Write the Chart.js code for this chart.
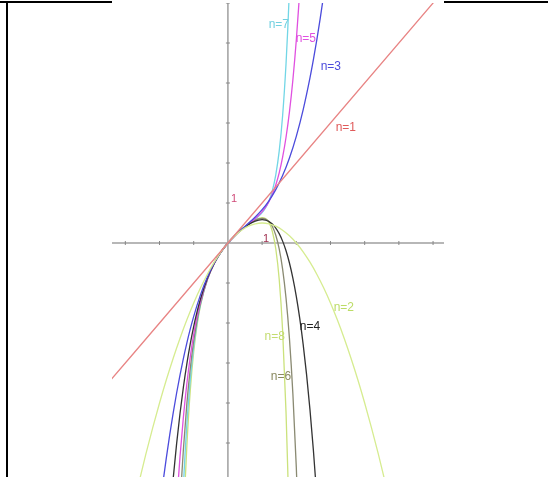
<!DOCTYPE html>
<html>
<head>
<meta charset="utf-8">
<script src="https://cdn.jsdelivr.net/npm/chart.js@4.4.1/dist/chart.umd.min.js"></script>
<style>
  body { margin: 0; background: #fff; width: 548px; height: 477px; position: relative; overflow: hidden; }
  .rule { position: absolute; background: #000; }
  #wrap { position: absolute; left: 112px; top: 3px; width: 332px; height: 474px; }
</style>
</head>
<body>
<div class="rule" style="left:0;top:1px;width:112px;height:2px"></div>
<div class="rule" style="left:444px;top:1px;width:104px;height:2px"></div>
<div class="rule" style="left:6px;top:1px;width:2px;height:476px"></div>
<div id="wrap"><canvas id="taylorChart" width="332" height="474"></canvas></div>
<script>
// Taylor polynomials, values
const n1X = [-3.6, 0, 6.4];
const n1Y = [-3.6, 0, 6.4];

const n2X = [-2.8,-2.6,-2.4,-2.2,-2.0,-1.8,-1.6,-1.4,-1.2,-1.0,-0.8,-0.6,-0.4,-0.2,0,0.2,0.4,0.6,0.8,1.0,1.2,1.4,1.6,1.8,2.0,2.2,2.4,2.6,2.8,3.0,3.2,3.4,3.6,3.8,4.0,4.2,4.4,4.6,4.8];
const n2Y = [-6.72,-5.98,-5.28,-4.62,-4,-3.42,-2.88,-2.38,-1.92,-1.5,-1.12,-0.78,-0.48,-0.22,0,0.18,0.32,0.42,0.48,0.5,0.48,0.42,0.32,0.18,0,-0.22,-0.48,-0.78,-1.12,-1.5,-1.92,-2.38,-2.88,-3.42,-4,-4.62,-5.28,-5.98,-6.72];

const n3X = [-2.0,-1.9,-1.8,-1.7,-1.6,-1.5,-1.4,-1.3,-1.2,-1.1,-1.0,-0.8,-0.6,-0.4,-0.2,0,0.2,0.4,0.6,0.8,1.0,1.2,1.4,1.6,1.8,2.0,2.2,2.4,2.5,2.6,2.7,2.8];
const n3Y = [-6.667,-5.991,-5.364,-4.783,-4.245,-3.75,-3.295,-2.877,-2.496,-2.149,-1.833,-1.291,-0.852,-0.501,-0.223,0,0.183,0.341,0.492,0.651,0.833,1.056,1.335,1.685,2.124,2.667,3.329,4.128,4.583,5.079,5.616,6.197];

const n4X = [-1.7,-1.6,-1.5,-1.4,-1.3,-1.2,-1.1,-1.0,-0.9,-0.8,-0.6,-0.4,-0.2,0,0.2,0.4,0.6,0.8,0.9,1.0,1.1,1.2,1.3,1.4,1.5,1.6,1.7,1.8,1.9,2.0,2.1,2.2,2.3,2.4,2.5,2.6];
const n4Y = [-6.871,-5.884,-5.016,-4.255,-3.591,-3.014,-2.515,-2.083,-1.712,-1.393,-0.884,-0.508,-0.223,0,0.182,0.335,0.460,0.548,0.574,0.583,0.573,0.538,0.473,0.374,0.234,0.047,-0.195,-0.500,-0.877,-1.333,-1.880,-2.527,-3.285,-4.166,-5.182,-6.346];

const n5X = [-1.5,-1.4,-1.3,-1.2,-1.1,-1.0,-0.9,-0.8,-0.6,-0.4,-0.2,0,0.2,0.4,0.6,0.8,0.9,1.0,1.1,1.2,1.3,1.4,1.5,1.6,1.7,1.8,1.9,2.0,2.1];
const n5Y = [-6.534,-5.331,-4.334,-3.512,-2.837,-2.283,-1.830,-1.459,-0.900,-0.510,-0.223,0,0.182,0.337,0.475,0.614,0.692,0.783,0.895,1.035,1.216,1.450,1.753,2.144,2.644,3.279,4.076,5.067,6.288];

const n6X = [-1.4,-1.35,-1.3,-1.2,-1.1,-1.0,-0.9,-0.8,-0.6,-0.4,-0.2,0,0.2,0.4,0.6,0.8,0.9,1.0,1.1,1.2,1.3,1.4,1.5,1.6,1.7,1.8,1.9,2.0,2.1];
const n6Y = [-6.586,-5.818,-5.138,-4.010,-3.132,-2.450,-1.919,-1.502,-0.908,-0.511,-0.223,0,0.182,0.336,0.467,0.570,0.604,0.617,0.599,0.538,0.411,0.195,-0.145,-0.652,-1.379,-2.390,-3.765,-5.600,-8.006];

const n7X = [-1.35,-1.3,-1.25,-1.2,-1.1,-1.0,-0.9,-0.8,-0.6,-0.4,-0.2,0,0.2,0.4,0.6,0.8,0.9,1.0,1.1,1.2,1.3,1.4,1.5,1.6,1.7,1.75,1.8];
const n7Y = [-6.985,-6.035,-5.220,-4.522,-3.411,-2.593,-1.987,-1.532,-0.912,-0.511,-0.223,0,0.182,0.337,0.471,0.600,0.672,0.760,0.878,1.049,1.308,1.701,2.296,3.183,4.483,5.337,6.356];

const n8X = [-1.3,-1.25,-1.2,-1.1,-1.0,-0.9,-0.8,-0.6,-0.4,-0.2,0,0.2,0.4,0.6,0.8,0.9,1.0,1.1,1.2,1.3,1.4,1.5,1.6,1.7,1.75,1.8];
const n8Y = [-7.055,-5.965,-5.059,-3.678,-2.718,-2.041,-1.553,-0.914,-0.511,-0.223,0,0.182,0.336,0.469,0.579,0.618,0.635,0.610,0.512,0.288,-0.144,-0.908,-2.186,-4.236,-5.659,-7.419];

const xTicks = [-3, -2, -1, 1, 2, 3, 4, 5, 6];
const yTicks = [-5, -4, -3, -2, -1, 1, 2, 3, 4, 5, 6];

const pts = (xs, ys) => xs.map((v, i) => ({ x: v, y: ys[i] }));

const series = [
  { name: 'n=1', data: pts(n1X, n1Y), color: '#e88484', text: '#e05a5a', at: [3.45, 2.875] },
  { name: 'n=2', data: pts(n2X, n2Y), color: '#d6ec90', text: '#bcdc66', at: [3.39, -1.625] },
  { name: 'n=3', data: pts(n3X, n3Y), color: '#4b4bdc', text: '#4b4bdc', at: [3.01, 4.4] },
  { name: 'n=4', data: pts(n4X, n4Y), color: '#333333', text: '#222222', at: [2.40, -2.1] },
  { name: 'n=5', data: pts(n5X, n5Y), color: '#e050e0', text: '#e050e0', at: [2.28, 5.1] },
  { name: 'n=6', data: pts(n6X, n6Y), color: '#8a8a72', text: '#8a8a60', at: [1.55, -3.35] },
  { name: 'n=7', data: pts(n7X, n7Y), color: '#72d6e6', text: '#72d0e0', at: [1.49, 5.45] },
  { name: 'n=8', data: pts(n8X, n8Y), color: '#cbe27c', text: '#c4dc70', at: [1.37, -2.35] }
];

const axesPlugin = {
  id: 'axes',
  beforeDatasetsDraw(chart) {
    const { ctx, chartArea: a, scales: { x, y } } = chart;
    const x0 = x.getPixelForValue(0), y0 = y.getPixelForValue(0);
    ctx.save();
    ctx.strokeStyle = '#a0a0a0';
    ctx.lineWidth = 1.5;
    ctx.beginPath();
    ctx.moveTo(a.left, y0); ctx.lineTo(a.right, y0);
    ctx.moveTo(x0, a.top); ctx.lineTo(x0, a.bottom);
    ctx.stroke();
    ctx.strokeStyle = '#888';
    ctx.lineWidth = 1;
    ctx.beginPath();
    xTicks.forEach(v => { const p = x.getPixelForValue(v); ctx.moveTo(p, y0 - 2); ctx.lineTo(p, y0 + 2); });
    yTicks.forEach(v => { const p = y.getPixelForValue(v); ctx.moveTo(x0 - 2, p); ctx.lineTo(x0 + 2, p); });
    ctx.stroke();
    ctx.font = '11px "Liberation Sans", Arial, sans-serif';
    ctx.textBaseline = 'alphabetic';
    ctx.fillStyle = '#a03050';
    ctx.textAlign = 'center';
    ctx.fillText('1', x.getPixelForValue(1) + 4, y0 - 1);
    ctx.fillStyle = '#d04a78';
    ctx.textAlign = 'left';
    ctx.fillText('1', x0 + 3, y.getPixelForValue(1) - 1);
    ctx.restore();
  },
  afterDatasetsDraw(chart) {
    const { ctx, scales: { x, y } } = chart;
    ctx.save();
    ctx.font = '12px "Liberation Sans", Arial, sans-serif';
    ctx.textAlign = 'center';
    ctx.textBaseline = 'middle';
    series.forEach(s => {
      ctx.fillStyle = s.text;
      ctx.fillText(s.name, x.getPixelForValue(s.at[0]), y.getPixelForValue(s.at[1]));
    });
    ctx.restore();
  }
};

const ctx = document.getElementById('taylorChart').getContext('2d');
const taylorChart = new Chart(ctx, {
  type: 'scatter',
  data: {
    datasets: series.map(s => ({
      label: s.name,
      data: s.data,
      showLine: true,
      borderColor: s.color,
      borderWidth: 1.3,
      pointRadius: 0,
      fill: false,
      cubicInterpolationMode: 'monotone'
    }))
  },
  options: {
    responsive: false,
    animation: false,
    devicePixelRatio: 1,
    layout: { padding: 0 },
    plugins: { legend: { display: false }, tooltip: { enabled: false } },
    scales: {
      x: { type: 'linear', min: -3.39, max: 6.32, display: false },
      y: { type: 'linear', min: -5.85, max: 6.0, display: false }
    }
  },
  plugins: [axesPlugin]
});
</script>
</body>
</html>
